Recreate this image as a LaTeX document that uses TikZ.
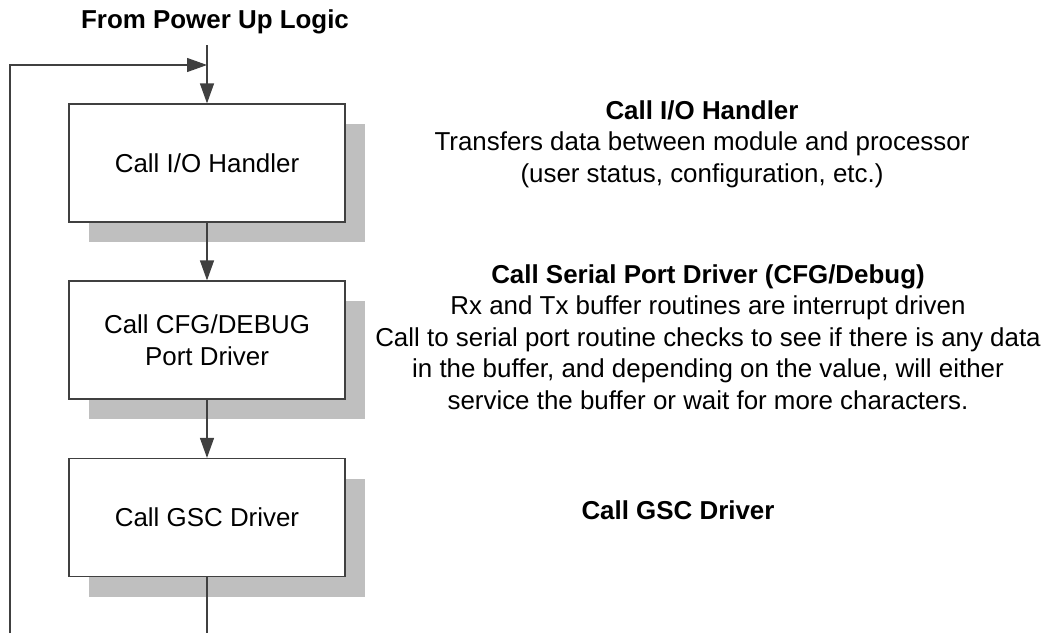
\documentclass[tikz,border=0pt]{standalone}
\usepackage{fontspec}
\setmainfont{Liberation Sans}
\usetikzlibrary{positioning, arrows.meta, shadows}

\begin{document}
\begin{tikzpicture}[
      x=0.02cm, y=-0.02cm,
      every node/.style={font=\fontsize{14.75}{18}\selectfont},
      stepbox/.style={draw=black!75, line width=0.7pt, fill=white,
        minimum width=5.52cm, minimum height=2.36cm, align=center,
        drop shadow={shadow xshift=0.4cm, shadow yshift=-0.4cm, fill=black!25, opacity=1}},
      note/.style={align=center},
      flow/.style={draw=black!75, line width=0.7pt},
      >={Triangle[length=0.4cm, width=0.28cm]},
    ]
    \useasboundingbox (0,0) rectangle (1050,633);

    \node[font=\fontsize{14.75}{18}\selectfont\bfseries] (power) at (215,22) {From Power Up Logic};

    \node[stepbox] (io) at (207,163) {Call I/O Handler};
    \node[stepbox] (cfg) at (207,340) {Call CFG/DEBUG\\Port Driver};
    \node[stepbox] (gsc) at (207,517.5) {Call GSC Driver};

    \node[note] (ioNote) at (702,144) {\textbf{Call I/O Handler}\\
      Transfers data between module and processor\\
      (user status, configuration, etc.)};
    \node[note] (cfgNote) at (708,337) {\textbf{Call Serial Port Driver (CFG/Debug)}\\
      Rx and Tx buffer routines are interrupt driven\\
      Call to serial port routine checks to see if there is any data\\
      in the buffer, and depending on the value, will either\\
      service the buffer or wait for more characters.};
    \node[note] (gscNote) at (678,510) {\textbf{Call GSC Driver}};

    \coordinate (entry) at (207,45);
    \coordinate (join) at (207,65);
    \coordinate (exit) at (207,633);
    \coordinate (loop) at (10,633);

    \draw[flow, ->] (entry) -- (io);
    \draw[flow, ->] (loop) |- (join);
    \draw[flow, ->] (io) -- (cfg);
    \draw[flow, ->] (cfg) -- (gsc);
    \draw[flow] (gsc) -- (exit);
  \end{tikzpicture}
\end{document}
